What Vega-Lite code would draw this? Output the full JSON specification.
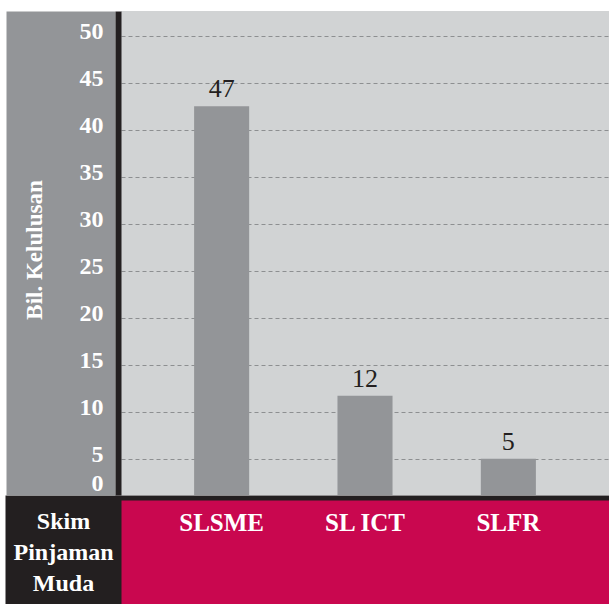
{
  "$schema": "https://vega.github.io/schema/vega-lite/v6.json",
  "width": 488,
  "height": 484,
  "autosize": {"type": "none"},
  "padding": {"left": 121, "top": 11, "right": 0, "bottom": 109},
  "background": "white",
  "config": {"view": {"fill": "#d1d3d4", "stroke": null}, "font": "Liberation Serif"},
  "data": {
    "values": [
      {"skim": "SLSME", "nilai": 42.5, "bil": 47},
      {"skim": "SL ICT", "nilai": 11.7, "bil": 12},
      {"skim": "SLFR", "nilai": 5, "bil": 5}
    ]
  },
  "layer": [
    {
      "mark": {"type": "bar", "color": "#939598"},
      "encoding": {
        "x": {
          "field": "skim", "type": "nominal", "sort": null,
          "scale": {"type": "band", "paddingInner": 0.616, "paddingOuter": 0.51},
          "axis": {
            "orient": "bottom", "offset": 57, "domainColor": "#c9074f", "domainWidth": 104,
            "ticks": false, "labels": false, "title": null, "grid": false, "zindex": 1
          }
        },
        "y": {
          "field": "nilai", "type": "quantitative",
          "scale": {"domain": [0, 5, 50, 52.63], "range": [484, 447.7, 24.7, 0], "nice": false, "zero": false},
          "axis": {
            "orient": "left", "offset": 60.5, "domainColor": "#939598", "domainWidth": 109,
            "ticks": false, "labels": false, "title": null, "grid": true, "gridColor": "#8d8f91",
            "gridDash": [4, 3], "gridWidth": 1, "values": [5, 10, 15, 20, 25, 30, 35, 40, 45, 50], "zindex": 0
          }
        }
      }
    },
    {
      "mark": {"type": "text", "font": "Liberation Serif", "fontSize": 26, "color": "#231f20", "baseline": "alphabetic", "dy": -9},
      "encoding": {
        "x": {
          "field": "skim", "type": "nominal", "sort": null,
          "scale": {"type": "band", "paddingInner": 0.616, "paddingOuter": 0.51},
          "axis": {
            "orient": "bottom", "offset": 57, "domain": false,
            "ticks": false, "tickSize": 0, "labelAngle": 0, "labelFont": "Liberation Serif",
            "labelFontWeight": "bold", "labelFontSize": 25, "labelColor": "white",
            "labelBaseline": "alphabetic", "labelPadding": -22, "title": null, "grid": false, "zindex": 2
          }
        },
        "y": {
          "field": "nilai", "type": "quantitative",
          "scale": {"domain": [0, 5, 50, 52.63], "range": [484, 447.7, 24.7, 0], "nice": false, "zero": false},
          "axis": {
            "orient": "left", "offset": 3, "domainColor": "#231f20", "domainWidth": 6,
            "ticks": false, "tickSize": 0, "labelPadding": 15, "labelFont": "Liberation Serif",
            "labelFontWeight": "bold", "labelFontSize": 24, "labelColor": "white",
            "labelBaseline": "alphabetic", "labelOffset": 3, "labelOverlap": false, "labelFlush": false,
            "values": [1.1, 5, 10, 15, 20, 25, 30, 35, 40, 45, 50],
            "labelExpr": "datum.value < 2 ? '0' : format(datum.value, 'd')",
            "grid": false,
            "title": "Bil. Kelulusan", "titleFont": "Liberation Serif", "titleFontSize": 23,
            "titleFontWeight": "bold", "titleColor": "white", "titleAngle": -90,
            "titleX": -77, "titleY": 238.5, "titleAlign": "center", "titleBaseline": "alphabetic",
            "zindex": 1
          }
        },
        "text": {"field": "bil", "type": "quantitative"}
      }
    },
    {
      "mark": {"type": "point", "opacity": 0},
      "encoding": {
        "x": {
          "field": "nilai", "type": "quantitative",
          "scale": {"range": [-116, 488]},
          "axis": {
            "orient": "bottom", "offset": 54.5, "domainColor": "#231f20", "domainWidth": 109,
            "ticks": false, "labels": false, "grid": false,
            "title": ["Skim", "Pinjaman", "Muda"], "titleX": -58, "titleY": -40.5, "titleAngle": 0,
            "titleAlign": "center", "titleBaseline": "top", "titleFont": "Liberation Serif",
            "titleFontSize": 24, "titleFontWeight": "bold", "titleColor": "white", "titleLineHeight": 31,
            "zindex": 0
          }
        }
      }
    }
  ],
  "resolve": {
    "scale": {"x": "independent", "y": "independent"},
    "axis": {"x": "independent", "y": "independent"}
  }
}
